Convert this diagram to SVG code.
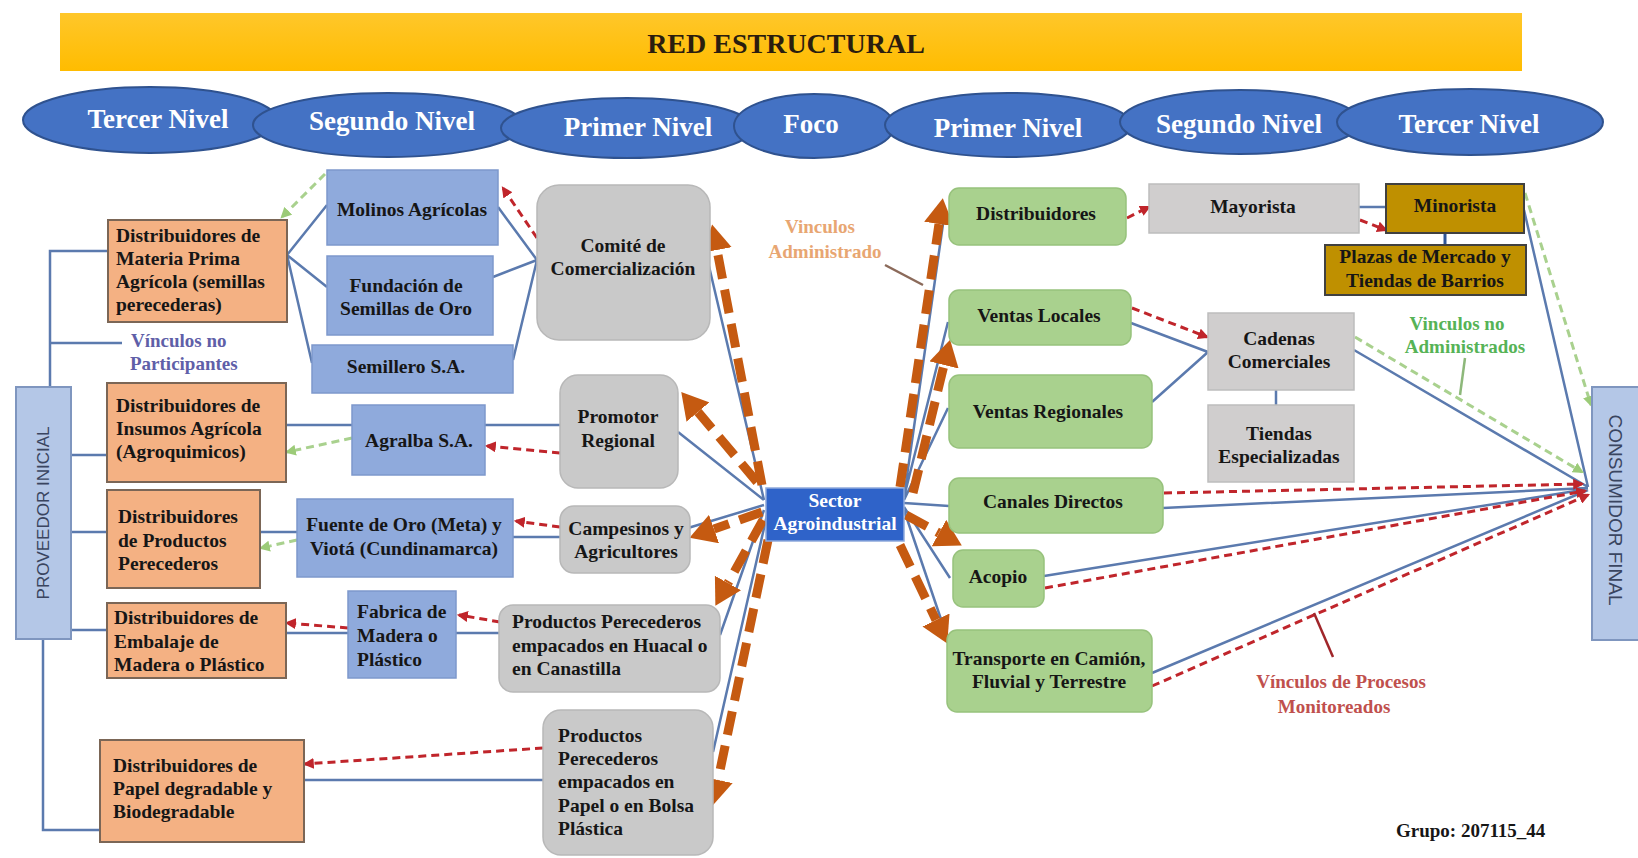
<svg xmlns="http://www.w3.org/2000/svg" width="1638" height="858" viewBox="0 0 1638 858">
<style>
.t{font-family:"Liberation Serif","Times New Roman",serif;font-weight:bold;font-size:19.5px;fill:#161616}
.c{text-anchor:middle}
.et{font-family:"Liberation Serif","Times New Roman",serif;font-weight:bold;font-size:27px;fill:#ffffff;text-anchor:middle}
.ell{fill:#4472C4;stroke:#2F528F;stroke-width:2}
.or{fill:#F4B183;stroke:#7B6656;stroke-width:2}
.bl{fill:#8FAADC;stroke:#7D98CC;stroke-width:1.5}
.gr{fill:#C9C9C9;stroke:#B8B8B8;stroke-width:1.5}
.gn{fill:#A9D18E;stroke:#97C27C;stroke-width:1.5}
.gr2{fill:#D0CECE;stroke:#BDBDBD;stroke-width:1.5}
.gd{fill:#BF9000;stroke:#404040;stroke-width:2}
.side{fill:#B4C7E7;stroke:#7F96BF;stroke-width:2}
.st{font-family:"Liberation Sans",Arial,sans-serif;font-size:17px;fill:#3A4560}
.ln{fill:none;stroke:#5B7AAE;stroke-width:2.5}
.rd{fill:none;stroke:#C0252B;stroke-width:3;stroke-dasharray:8 5;marker-end:url(#ar)}
.gdash{fill:none;stroke:#A9D18E;stroke-width:3;stroke-dasharray:8 5;marker-end:url(#ag)}
.od{fill:none;stroke:#C55A11;stroke-width:9;stroke-dasharray:24 11;marker-end:url(#ao)}
</style>
<defs>
<linearGradient id="yb" x1="0" y1="0" x2="0" y2="1">
<stop offset="0" stop-color="#FFC72A"/>
<stop offset="1" stop-color="#FFBC00"/>
</linearGradient>
<marker id="ao" markerUnits="userSpaceOnUse" markerWidth="26" markerHeight="30" viewBox="0 0 26 30" refX="0" refY="15" orient="auto">
<path d="M0,0 L26,15 L0,30 z" fill="#C55A11"/>
</marker>
<marker id="ar" markerUnits="userSpaceOnUse" markerWidth="11" markerHeight="11" viewBox="0 0 10 10" refX="8" refY="5" orient="auto">
<path d="M0,0 L10,5 L0,10 z" fill="#C0252B"/>
</marker>
<marker id="ag" markerUnits="userSpaceOnUse" markerWidth="11" markerHeight="11" viewBox="0 0 10 10" refX="8" refY="5" orient="auto">
<path d="M0,0 L10,5 L0,10 z" fill="#9CCB78"/>
</marker>
</defs>
<rect x="0" y="0" width="1638" height="858" fill="#ffffff"/>

<g id="banner">
<rect x="60" y="13" width="1462" height="58" fill="url(#yb)"/>
<text class="t c" x="786" y="53" style="font-size:28px;fill:#2B1D0E">RED ESTRUCTURAL</text>
</g>

<g id="levels">
<g id="lv-tercer-l"><ellipse class="ell" cx="150" cy="120" rx="127" ry="33"/><text class="et" x="158" y="128">Tercer Nivel</text></g>
<g id="lv-segundo-l"><ellipse class="ell" cx="388" cy="125" rx="135" ry="32"/><text class="et" x="392" y="130">Segundo Nivel</text></g>
<g id="lv-primer-l"><ellipse class="ell" cx="627" cy="128" rx="126" ry="30"/><text class="et" x="638" y="136">Primer Nivel</text></g>
<g id="lv-foco"><ellipse class="ell" cx="814" cy="126" rx="80" ry="32"/><text class="et" x="811" y="133">Foco</text></g>
<g id="lv-primer-r"><ellipse class="ell" cx="1008" cy="125" rx="123" ry="32"/><text class="et" x="1008" y="137">Primer Nivel</text></g>
<g id="lv-segundo-r"><ellipse class="ell" cx="1240" cy="122" rx="120" ry="32"/><text class="et" x="1239" y="133">Segundo Nivel</text></g>
<g id="lv-tercer-r"><ellipse class="ell" cx="1470" cy="122" rx="133" ry="33"/><text class="et" x="1469" y="133">Tercer Nivel</text></g>
</g>

<g id="connectors">
<path class="ln" d="M108 251 H50 V388"/>
<path class="ln" d="M50 343 H122"/>
<path class="ln" d="M71 455 H107 M71 532 H107 M71 630 H107"/>
<path class="ln" d="M43 639 V830 H100"/>
<path class="ln" d="M287 255 L327 205 M287 255 L327 287 M287 255 L312 363"/>
<path class="ln" d="M537 260 L498 207 M537 260 L493 277 M537 260 L513 360"/>
<path class="ln" d="M286 425 H352 M485 425 H560"/>
<path class="ln" d="M260 532 H297 M513 537 H560"/>
<path class="ln" d="M286 633 H348 M456 633 H499"/>
<path class="ln" d="M304 780 H543"/>
<path class="ln" d="M764 500 L708 262 M764 500 L678 432 M764 505 L688 528 M764 510 L720 635 M767 515 L713 752"/>
<path class="ln" d="M904 497 L945 210 M904 497 L948 322 M904 500 L948 408 M904 503 L949 506 M904 507 L950 578 M904 510 L946 634"/>
<path class="ln" d="M1359 207 H1386"/>
<path d="M1445 233 V245" stroke="#2F5597" stroke-width="3"/>
<path class="ln" d="M1131 323 L1208 352 M1152 402 L1208 352"/>
<path class="ln" d="M1276 390 V405"/>
<path class="ln" d="M1354 350 L1588 487 M1524 210 L1588 487"/>
<path class="ln" d="M1163 508 L1588 488 M1044 576 L1588 489 M1152 673 L1588 490"/>
<path class="rd" d="M537 238 L503 188"/>
<path class="rd" d="M560 453 L487 446"/>
<path class="rd" d="M560 527 L516 521"/>
<path class="rd" d="M500 622 L459 615"/>
<path class="rd" d="M348 628 L287 623"/>
<path class="rd" d="M543 748 L305 764"/>
<path class="rd" d="M1127 218 L1149 207"/>
<path class="rd" d="M1360 220 L1386 230"/>
<path class="rd" d="M1132 308 L1207 337"/>
<path class="rd" d="M1164 493 L1582 484"/>
<path class="rd" d="M1045 588 L1585 491"/>
<path class="rd" d="M1152 686 L1588 495"/>
<path class="gdash" d="M325 174 L282 217"/>
<path class="gdash" d="M352 438 L287 452"/>
<path class="gdash" d="M297 540 L261 548"/>
<path class="gdash" d="M1355 337 L1582 472"/>
<path class="gdash" d="M1525 193 L1591 405"/>
<path class="od" d="M762 485 L717 250"/>
<path class="od" d="M757 482 L698 412"/>
<path class="od" d="M762 512 L714 529"/>
<path class="od" d="M763 520 L728 583"/>
<path class="od" d="M768 540 L718 780"/>
<path class="od" d="M900 487 L939 224"/>
<path class="od" d="M913 493 L944 365"/>
<path class="od" d="M906 515 L939 533"/>
<path class="od" d="M900 545 L936 620"/>
<path d="M885 265 L923 285" stroke="#8B6A5A" stroke-width="2.5"/>
<path d="M1465 358 L1460 395" stroke="#8DB87A" stroke-width="2.5"/>
<path d="M1314 613 L1333 657" stroke="#A0262A" stroke-width="2.5"/>
</g>

<g id="proveedor"><rect class="side" x="16" y="387" width="55" height="252"/><text class="st c" transform="translate(49 513) rotate(-90)">PROVEEDOR INICIAL</text></g>
<g id="consumidor"><rect class="side" x="1592" y="387" width="50" height="253"/><text class="st c" transform="translate(1609 510) rotate(90)" style="font-size:19px">CONSUMIDOR FINAL</text></g>

<g id="n-materia"><rect class="or" x="108" y="220" width="179" height="102"/><text class="t"><tspan x="116" y="242">Distribuidores de</tspan><tspan x="116" y="265">Materia Prima</tspan><tspan x="116" y="288">Agrícola (semillas</tspan><tspan x="116" y="311">perecederas)</tspan></text></g>
<g id="n-insumos"><rect class="or" x="107" y="383" width="179" height="99"/><text class="t"><tspan x="116" y="412">Distribuidores de</tspan><tspan x="116" y="435">Insumos Agrícola</tspan><tspan x="116" y="458">(Agroquimicos)</tspan></text></g>
<g id="n-productos"><rect class="or" x="107" y="490" width="153" height="98"/><text class="t"><tspan x="118" y="523">Distribuidores</tspan><tspan x="118" y="547">de Productos</tspan><tspan x="118" y="570">Perecederos</tspan></text></g>
<g id="n-embalaje"><rect class="or" x="107" y="603" width="179" height="75"/><text class="t"><tspan x="114" y="624">Distribuidores de</tspan><tspan x="114" y="648">Embalaje de</tspan><tspan x="114" y="671">Madera o Plástico</tspan></text></g>
<g id="n-papel"><rect class="or" x="100" y="740" width="204" height="102"/><text class="t"><tspan x="113" y="772">Distribuidores de</tspan><tspan x="113" y="795">Papel degradable y</tspan><tspan x="113" y="818">Biodegradable</tspan></text></g>

<g id="n-molinos"><rect class="bl" x="327" y="170" width="171" height="75"/><text class="t c" x="412" y="216">Molinos Agrícolas</text></g>
<g id="n-fundacion"><rect class="bl" x="327" y="256" width="166" height="79"/><text class="t c"><tspan x="406" y="292">Fundación de</tspan><tspan x="406" y="315">Semillas de Oro</tspan></text></g>
<g id="n-semillero"><rect class="bl" x="312" y="345" width="201" height="48"/><text class="t c" x="406" y="373">Semillero S.A.</text></g>
<g id="n-agralba"><rect class="bl" x="352" y="405" width="133" height="70"/><text class="t c" x="419" y="447">Agralba S.A.</text></g>
<g id="n-fuente"><rect class="bl" x="297" y="499" width="216" height="78"/><text class="t c"><tspan x="404" y="531">Fuente de Oro (Meta) y</tspan><tspan x="404" y="555">Viotá (Cundinamarca)</tspan></text></g>
<g id="n-fabrica"><rect class="bl" x="348" y="591" width="108" height="87"/><text class="t"><tspan x="357" y="618">Fabrica de</tspan><tspan x="357" y="642">Madera o</tspan><tspan x="357" y="666">Plástico</tspan></text></g>

<g id="n-comite"><rect class="gr" x="537" y="185" width="173" height="155" rx="22"/><text class="t c"><tspan x="623" y="252">Comité de</tspan><tspan x="623" y="275">Comercialización</tspan></text></g>
<g id="n-promotor"><rect class="gr" x="560" y="375" width="118" height="113" rx="18"/><text class="t c"><tspan x="618" y="423">Promotor</tspan><tspan x="618" y="447">Regional</tspan></text></g>
<g id="n-campesinos"><rect class="gr" x="560" y="506" width="130" height="67" rx="14"/><text class="t c"><tspan x="626" y="535">Campesinos y</tspan><tspan x="626" y="558">Agricultores</tspan></text></g>
<g id="n-huacal"><rect class="gr" x="499" y="605" width="221" height="87" rx="14"/><text class="t"><tspan x="512" y="628">Productos Perecederos</tspan><tspan x="512" y="652">empacados en Huacal o</tspan><tspan x="512" y="675">en Canastilla</tspan></text></g>
<g id="n-bolsa"><rect class="gr" x="543" y="710" width="170" height="145" rx="18"/><text class="t"><tspan x="558" y="742">Productos</tspan><tspan x="558" y="765">Perecederos</tspan><tspan x="558" y="788">empacados en</tspan><tspan x="558" y="812">Papel o en Bolsa</tspan><tspan x="558" y="835">Plástica</tspan></text></g>

<g id="n-sector"><rect x="766" y="488" width="138" height="53" fill="#2F63C9" stroke="#8EA9DB" stroke-width="1.5"/><text class="t c" style="fill:#ffffff"><tspan x="835" y="507">Sector</tspan><tspan x="835" y="530">Agroindustrial</tspan></text></g>

<g id="n-distribuidores"><rect class="gn" x="949" y="188" width="177" height="57" rx="10"/><text class="t c" x="1036" y="220">Distribuidores</text></g>
<g id="n-ventas-locales"><rect class="gn" x="949" y="290" width="182" height="55" rx="10"/><text class="t c" x="1039" y="322">Ventas Locales</text></g>
<g id="n-ventas-regionales"><rect class="gn" x="949" y="375" width="203" height="73" rx="10"/><text class="t c" x="1048" y="418">Ventas Regionales</text></g>
<g id="n-canales"><rect class="gn" x="949" y="478" width="214" height="55" rx="10"/><text class="t c" x="1053" y="508">Canales Directos</text></g>
<g id="n-acopio"><rect class="gn" x="953" y="550" width="91" height="57" rx="10"/><text class="t c" x="998" y="583">Acopio</text></g>
<g id="n-transporte"><rect class="gn" x="947" y="630" width="205" height="82" rx="10"/><text class="t c"><tspan x="1049" y="665">Transporte en Camión,</tspan><tspan x="1049" y="688">Fluvial y Terrestre</tspan></text></g>

<g id="n-mayorista"><rect class="gr2" x="1149" y="184" width="210" height="49"/><text class="t c" x="1253" y="213">Mayorista</text></g>
<g id="n-cadenas"><rect class="gr2" x="1208" y="313" width="146" height="77"/><text class="t c"><tspan x="1279" y="345">Cadenas</tspan><tspan x="1279" y="368">Comerciales</tspan></text></g>
<g id="n-tiendas"><rect class="gr2" x="1208" y="405" width="146" height="77"/><text class="t c"><tspan x="1279" y="440">Tiendas</tspan><tspan x="1279" y="463">Especializadas</tspan></text></g>
<g id="n-minorista"><rect class="gd" x="1386" y="184" width="138" height="49"/><text class="t c" x="1455" y="212">Minorista</text></g>
<g id="n-plazas"><rect class="gd" x="1325" y="245" width="201" height="50"/><text class="t c"><tspan x="1425" y="263">Plazas de Mercado y</tspan><tspan x="1425" y="287">Tiendas de Barrios</tspan></text></g>

<g id="labels">
<text class="t" style="font-size:19px;fill:#5F5FA8"><tspan x="131" y="347">Vínculos no</tspan><tspan x="130" y="370">Participantes</tspan></text>
<text class="t c" style="font-size:19px;fill:#E8A672"><tspan x="820" y="233">Vinculos</tspan><tspan x="825" y="258">Administrado</tspan></text>
<text class="t c" style="font-size:19px;fill:#56B356"><tspan x="1457" y="330">Vinculos no</tspan><tspan x="1465" y="353">Administrados</tspan></text>
<text class="t c" style="font-size:19px;fill:#C0504D"><tspan x="1341" y="688">Vínculos de Procesos</tspan><tspan x="1334" y="713">Monitoreados</tspan></text>
<text class="t" x="1396" y="837" style="font-size:19px">Grupo: 207115_44</text>
</g>
</svg>
